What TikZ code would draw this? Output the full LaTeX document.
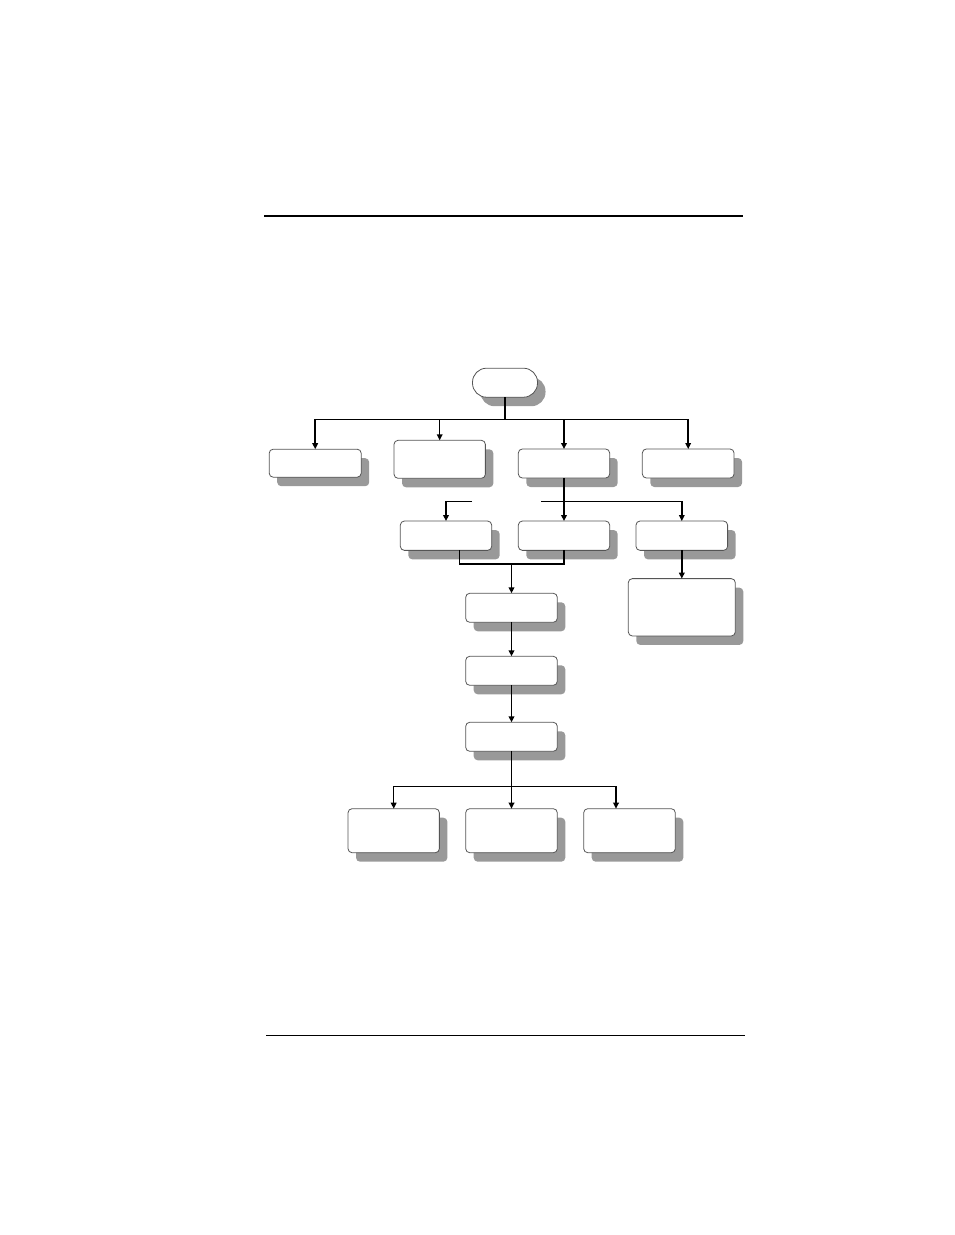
\documentclass[tikz,border=0pt]{standalone}
\usetikzlibrary{arrows.meta,shadows}
\definecolor{shadowgray}{RGB}{153,153,153}
\definecolor{edgegray}{RGB}{85,85,85}
\tikzset{
  box/.style={draw=edgegray, line width=0.6pt, fill=white, rounded corners=3pt,
    inner sep=0pt, outer sep=0pt,
    general shadow={fill=shadowgray, shadow xshift=6pt, shadow yshift=-6.75pt}},
  term/.style={box, rounded corners=10.5pt},
  conn/.style={line width=1.1pt, draw=black},
  arr/.style={conn, -{Triangle[length=4.5pt,width=4.2pt]}},
  toprule/.style={line width=1.6pt, draw=black},
  botrule/.style={line width=0.8pt, draw=black},
}
\begin{document}
\begin{tikzpicture}[x=0.75pt,y=-0.75pt]
\useasboundingbox (0,0) rectangle (954,1235);
% rules
\coordinate (r1a) at (264,216);
\coordinate (r1b) at (743,216);
\coordinate (r2a) at (266,1035.5);
\coordinate (r2b) at (745,1035.5);
\draw[toprule] (r1a) -- (r1b);
\draw[botrule] (r2a) -- (r2b);
% nodes
\node[term, minimum width=48.75pt, minimum height=21.75pt] (t) at (505,382.7) {};
\node[box, minimum width=69pt, minimum height=21pt] (b1) at (315.2,463.2) {};
\node[box, minimum width=68.5pt, minimum height=28.5pt] (b2) at (439.7,459.3) {};
\node[box, minimum width=68.5pt, minimum height=21.75pt] (b3) at (564,463.5) {};
\node[box, minimum width=68.8pt, minimum height=21.75pt] (b4) at (688.2,463.5) {};
\node[box, minimum width=68.5pt, minimum height=22pt] (b5) at (446,535.7) {};
\node[box, minimum width=68.5pt, minimum height=22pt] (b6) at (564,535.7) {};
\node[box, minimum width=68.7pt, minimum height=22pt] (b7) at (681.8,535.7) {};
\node[box, minimum width=80.25pt, minimum height=43pt] (b8) at (681.8,607.3) {};
\node[box, minimum width=68.7pt, minimum height=21.75pt] (b9) at (511.5,607.8) {};
\node[box, minimum width=68.7pt, minimum height=21.75pt] (b10) at (511.5,670.8) {};
\node[box, minimum width=68.7pt, minimum height=21.75pt] (b11) at (511.5,736.8) {};
\node[box, minimum width=68.5pt, minimum height=33pt] (b12) at (393.7,830.7) {};
\node[box, minimum width=68.7pt, minimum height=33pt] (b13) at (511.5,830.7) {};
\node[box, minimum width=68.7pt, minimum height=33pt] (b14) at (629.5,830.7) {};
% top bus
\coordinate (j1) at (505,419.3);
\coordinate (a1) at (315.2,419.3);
\coordinate (a2) at (439.7,419.3);
\coordinate (a3) at (564,419.3);
\coordinate (a4) at (688.2,419.3);
\draw[conn] (t) -- (j1);
\draw[conn] (a1) -- (a4);
\draw[arr] (a1) -- (b1);
\draw[arr] (a2) -- (b2);
\draw[arr] (a3) -- (b3);
\draw[arr] (a4) -- (b4);
% second bus
\coordinate (j2) at (564,501.3);
\coordinate (g1) at (541,501.3);
\coordinate (g2) at (681.8,501.3);
\coordinate (g3) at (472,501.3);
\coordinate (g4) at (446,501.3);
\draw[conn] (b3) -- (j2);
\draw[conn] (g1) -- (g2);
\draw[arr] (j2) -- (b6);
\draw[arr] (g2) -- (b7);
\draw[arr] (g3) -- (g4) -- (b5);
% merge
\coordinate (m1) at (459.3,564);
\coordinate (m2) at (564,564);
\coordinate (m3) at (511.5,564);
\draw[conn] (m1 |- b5.south) -- (m1) -- (m2) -- (b6);
\draw[arr] (m3) -- (b9);
\draw[arr] (b7) -- (b8);
\draw[arr] (b9) -- (b10);
\draw[arr] (b10) -- (b11);
% bottom bus
\coordinate (k) at (511.5,786.3);
\coordinate (kL) at (393.7,786.3);
\coordinate (kR) at (616,786.3);
\draw[conn] (b11) -- (k);
\draw[conn] (kL) -- (kR);
\draw[arr] (kL) -- (b12);
\draw[arr] (k) -- (b13);
\draw[arr] (kR) -- (kR |- b14.north);
\end{tikzpicture}
\end{document}
